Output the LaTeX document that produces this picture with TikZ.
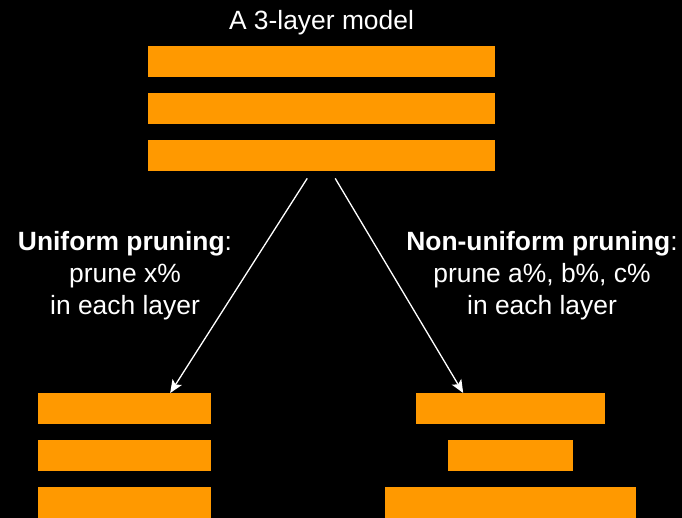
\documentclass[tikz,border=0pt]{standalone}
\usepackage{fontspec}
\setmainfont{Liberation Sans}
\usetikzlibrary{arrows.meta}
\definecolor{barorange}{HTML}{FF9900}
\tikzset{
  layerbar/.style={fill=barorange,draw=none,inner sep=0pt,anchor=north west,minimum height=31pt},
  label/.style={text=white,font=\fontsize{26.4}{32}\selectfont,align=center,inner sep=0pt},
  flow/.style={draw=white,line width=1.3pt,-{Stealth[length=13pt,width=11pt,inset=3pt]}}
}
\begin{document}
\begin{tikzpicture}[x=1pt,y=-1pt]
\fill[black] (0,0) rectangle (682,518);
\useasboundingbox (0,0) rectangle (682,518);
\node[label,anchor=base] (title) at (321.5,30) {A 3-layer model};
\node[layerbar,minimum width=347pt] (layerA) at (148,46) {};
\node[layerbar,minimum width=347pt] (layerB) at (148,93) {};
\node[layerbar,minimum width=347pt] (layerC) at (148,140) {};
\node[label] (uniform) at (125,276) {\textbf{Uniform pruning}:\\prune x\%\\in each layer};
\node[label] (nonuniform) at (542,276) {\textbf{Non-uniform pruning}:\\prune a\%, b\%, c\%\\in each layer};
\node[layerbar,minimum width=173pt] (uniA) at (38,393) {};
\node[layerbar,minimum width=173pt] (uniB) at (38,440) {};
\node[layerbar,minimum width=173pt] (uniC) at (38,487) {};
\node[layerbar,minimum width=189pt] (nonA) at (416,393) {};
\node[layerbar,minimum width=125pt] (nonB) at (448,440) {};
\node[layerbar,minimum width=251pt] (nonC) at (385,487) {};
\draw[flow] ([xshift=-14.5pt,yshift=-7pt]layerC.south) -- ([xshift=45.5pt]uniA.north);
\draw[flow] ([xshift=13.5pt,yshift=-7pt]layerC.south) -- ([xshift=-47.5pt]nonA.north);
\end{tikzpicture}
\end{document}
